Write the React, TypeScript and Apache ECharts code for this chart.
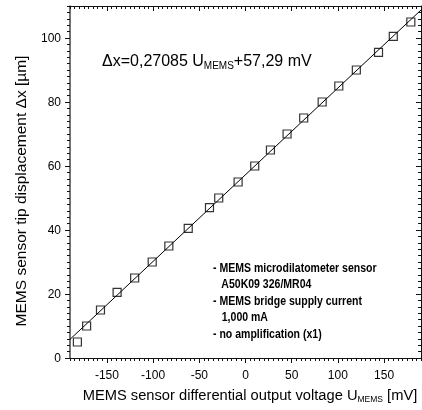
import React, { useEffect, useRef } from "react";
import * as echarts from "echarts";

const uMems = [-182, -172, -157, -139, -120, -101, -83, -62, -39, -29, -8, 10, 27, 45, 63, 83, 101, 120, 144, 160, 179];
const dx = [5, 10, 15, 20.5, 25, 30, 35, 40.5, 47, 50, 55, 60, 65, 70, 75, 80, 85, 90, 95.5, 100.5, 105];
const fitX = [-190, 190];
const fitY = [5.83, 108.75];
const xMajor = [-150, -100, -50, 0, 50, 100, 150];
const yMajor = [0, 20, 40, 60, 80, 100];
const noteLines = [
  "- MEMS microdilatometer sensor",
  "   A50K09 326/MR04",
  "- MEMS bridge supply current",
  "   1,000 mA",
  "- no amplification (x1)",
];

const FONT = "Liberation Sans, Arial, sans-serif";
const AX = "#111";

export default function App() {
  const ref = useRef<HTMLDivElement>(null);
  useEffect(() => {
    if (!ref.current) return;
    const chart = echarts.init(ref.current, undefined, { renderer: "svg" });
    const base = (pos: string) => ({
      type: "value",
      position: pos,
      splitLine: { show: false },
      axisLine: { show: false, onZero: false, lineStyle: { color: AX, width: 1 } },
    });
    const xRange = { min: -190, max: 190 };
    const yRange = { min: 0, max: 110 };
    const lbl = { color: "#000", fontFamily: FONT, fontSize: 12 };
    chart.setOption({
      animation: false,
      textStyle: { fontFamily: FONT },
      grid: { left: 70, right: 1, top: 6, bottom: 52 },
      xAxis: [
        { ...base("bottom"), ...xRange, interval: 5, axisLine: { show: true, onZero: false, lineStyle: { color: AX } }, axisTick: { length: 3, lineStyle: { color: AX } }, axisLabel: { show: false } },
        { ...base("bottom"), ...xRange, axisTick: { length: 5, customValues: xMajor, lineStyle: { color: AX } }, axisLabel: { ...lbl, margin: 11, customValues: xMajor } },
        { ...base("top"), ...xRange, interval: 5, axisLine: { show: true, onZero: false, lineStyle: { color: AX } }, axisTick: { inside: true, length: 3, lineStyle: { color: AX } }, axisLabel: { show: false } },
        { ...base("top"), ...xRange, axisTick: { inside: true, length: 5, customValues: xMajor, lineStyle: { color: AX } }, axisLabel: { show: false } },
      ],
      yAxis: [
        { ...base("left"), ...yRange, interval: 2, axisLine: { show: true, onZero: false, lineStyle: { color: "#444", width: 1.5 } }, axisTick: { length: 3, lineStyle: { color: AX } }, axisLabel: { show: false } },
        { ...base("left"), ...yRange, axisTick: { length: 5, customValues: yMajor, lineStyle: { color: AX } }, axisLabel: { ...lbl, margin: 9, customValues: yMajor } },
        { ...base("right"), ...yRange, interval: 2, axisLine: { show: true, onZero: false, lineStyle: { color: AX } }, axisTick: { inside: true, length: 3, lineStyle: { color: AX } }, axisLabel: { show: false } },
        { ...base("right"), ...yRange, axisTick: { inside: true, length: 5, customValues: yMajor, lineStyle: { color: AX } }, axisLabel: { show: false } },
      ],
      series: [
        {
          type: "line",
          data: fitX.map((x, i) => [x, fitY[i]]),
          showSymbol: false,
          symbol: "none",
          lineStyle: { color: "#000", width: 1 },
          silent: true,
        },
        {
          type: "scatter",
          data: uMems.map((x, i) => [x, dx[i]]),
          symbol: "rect",
          symbolSize: 8,
          itemStyle: { color: "rgba(255,255,255,0)", borderColor: "#000", borderWidth: 1.2 },
        },
      ],
      graphic: [
        {
          type: "text",
          x: 102,
          y: 50,
          style: {
            text: "Δx=0,27085 U{sub|MEMS}+57,29 mV",
            font: `16px ${FONT}`,
            fill: "#000",
            rich: {
              sub: { fontSize: 10, fontFamily: FONT, fill: "#000", verticalAlign: "bottom", padding: [10, 0, 0, 0] },
            },
          },
        },
        ...noteLines.map((t, i) => ({
          type: "text",
          x: 213,
          y: 261 + i * 16.5,
          scaleX: 0.81,
          style: { text: t, font: `bold 13px ${FONT}`, fill: "#000" },
        })),
        {
          type: "text",
          x: 250,
          y: 386,
          style: {
            text: "MEMS sensor differential output voltage U{sub|MEMS} [mV]",
            font: `14.7px ${FONT}`,
            fill: "#000",
            align: "center",
            rich: {
              sub: { fontSize: 8.5, fontFamily: FONT, fill: "#000", verticalAlign: "bottom", padding: [8, 0, 0, 0] },
            },
          },
        },
        {
          type: "text",
          x: 20,
          y: 191,
          rotation: Math.PI / 2,
          style: {
            text: "MEMS sensor tip displacement Δx [µm]",
            font: `15.5px ${FONT}`,
            fill: "#000",
            align: "center",
            verticalAlign: "middle",
          },
        },
      ],
    });
    return () => chart.dispose();
  }, []);
  return <div ref={ref} style={{ position: "fixed", left: 0, top: 0, width: 422, height: 410 }} />;
}
